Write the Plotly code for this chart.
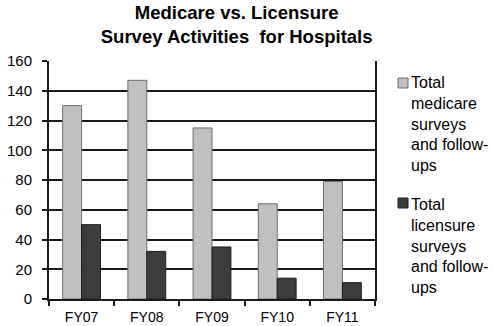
import plotly.graph_objects as go

years = ["FY07", "FY08", "FY09", "FY10", "FY11"]
medicare = [130, 147, 115, 64, 79]
licensure = [50, 32, 35, 14, 11]

series_labels = [
    "Total<br>medicare<br>surveys<br>and follow-<br>ups",
    "Total<br>licensure<br>surveys<br>and follow-<br>ups",
]
series_fill = ["#C0C0C2", "#3C3C3C"]
series_edge = ["#6E6E6E", "#1E1E1E"]

FONT = "Liberation Sans, Arial, sans-serif"

# plot-area geometry (pixels) used to place the hand-built legend
W, H = 493, 326
ML, MR, MT, MB = 49, 118, 61, 27
PW, PH = W - ML - MR, H - MT - MB


def px_x(x):
    return (x - ML) / PW


def px_y(y):
    return (H - MB - y) / PH


fig = go.Figure()
for name, vals, fill, edge in zip(series_labels, [medicare, licensure], series_fill, series_edge):
    fig.add_trace(go.Bar(
        x=years, y=vals, name=name.replace("<br>", " "),
        marker=dict(color=fill, line=dict(color=edge, width=1)),
    ))

# legend: swatch + wrapped label per series
text_tops = [72, 194]
swatch_tops = [78, 198]
for label, fill, edge, top, sq in zip(series_labels, series_fill, series_edge, text_tops, swatch_tops):
    fig.add_shape(
        type="rect", xref="paper", yref="paper",
        x0=px_x(398), x1=px_x(408), y0=px_y(sq + 10), y1=px_y(sq),
        fillcolor=fill, line=dict(color=edge, width=1),
    )
    fig.add_annotation(
        text=label, xref="paper", yref="paper",
        x=px_x(409), y=px_y(top), xanchor="left", yanchor="top",
        align="left", showarrow=False,
        font=dict(family=FONT, size=16, color="black"),
    )

fig.update_layout(
    width=W, height=H,
    margin=dict(l=ML, r=MR, t=MT, b=MB),
    paper_bgcolor="white", plot_bgcolor="white",
    barmode="group", bargap=0.42, bargroupgap=0,
    showlegend=False,
    title=dict(
        text="<b>Medicare vs. Licensure<br>Survey Activities  for Hospitals</b>",
        x=0.48, xanchor="center", y=0.942, yanchor="top",
        font=dict(family=FONT, size=18.5, color="black"),
    ),
    font=dict(family=FONT, size=14, color="black"),
)

fig.update_xaxes(
    type="category", tickson="boundaries",
    ticks="outside", ticklen=5, tickwidth=2, tickcolor="#1a1a1a",
    showline=True, linecolor="#1a1a1a", linewidth=2,
    showgrid=False, tickfont=dict(size=14),
    ticklabelstandoff=4, automargin=False,
)
fig.update_yaxes(
    range=[0, 160], dtick=20,
    ticks="outside", ticklen=5, tickwidth=2, tickcolor="#1a1a1a",
    showline=True, linecolor="#1a1a1a", linewidth=2, mirror=True,
    showgrid=True, gridcolor="#1a1a1a", gridwidth=2,
    zeroline=False, tickfont=dict(size=15),
    ticklabelstandoff=7, automargin=False,
)

fig.write_html("out.html")
